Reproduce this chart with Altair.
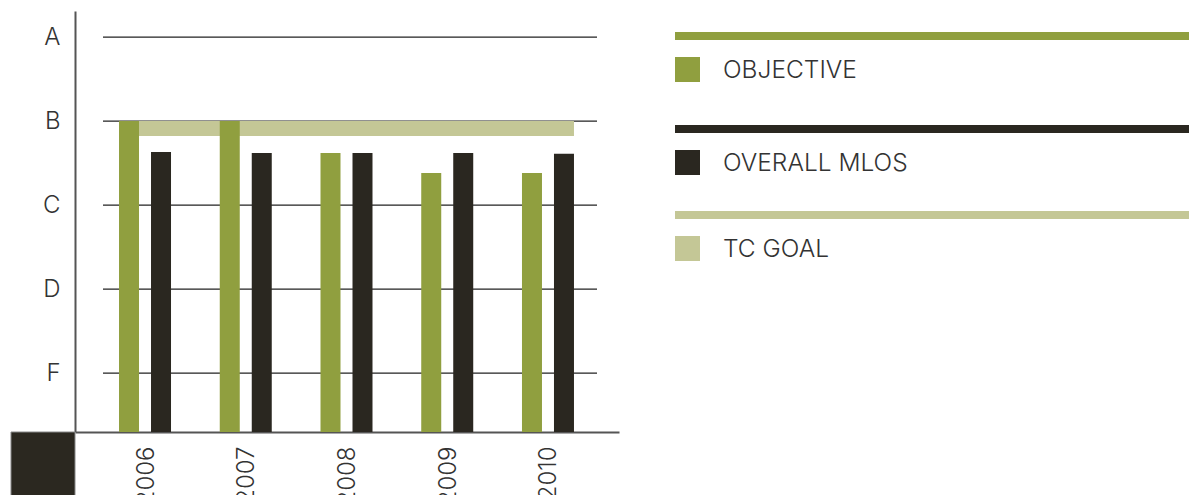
import altair as alt
import pandas as pd

# ---- data ----
years = [2006, 2007, 2008, 2009, 2010]
objective = [3.0, 3.0, 2.62, 2.38, 2.38]
overall_mlos = [2.63, 2.62, 2.62, 2.62, 2.61]
tc_goal_value = 3.0
tc_goal_years = [2006, 2010]
grades = ["A", "B", "C", "D", "F"]
grade_points = [4, 3, 2, 1, 0]
series_names = ["OBJECTIVE", "OVERALL MLOS", "TC GOAL"]
series_colors = ["#909f3f", "#2a2720", "#c4c796"]

# ---- layout / style ----
W, H = 544, 421
Y_DOMAIN = [-0.702, 4.31]
X_DOMAIN = [2005.305, 2010.705]
FONT = "Inter"
FONT_W = 300
TEXT_COLOR = "#333333"
AXIS_COLOR = "#555555"

rows = []
for y, o, m in zip(years, objective, overall_mlos):
    rows.append({"year": y, "series": series_names[0], "value": o})
    rows.append({"year": y, "series": series_names[1], "value": m})
df = pd.DataFrame(rows)

xscale = alt.Scale(domain=X_DOMAIN, nice=False, zero=False, padding=0)
yscale = alt.Scale(domain=Y_DOMAIN, nice=False, zero=False, padding=0)

label_map = "{" + ",".join(f"'{p}':'{g}'" for g, p in zip(grades, grade_points)) + "}"

x_axis = alt.Axis(
    values=years, format="d", labelAngle=270, labelFontSize=24, labelFont=FONT,
    labelFontWeight=FONT_W, labelColor=TEXT_COLOR, labelPadding=14, labelOffset=1,
    ticks=False, grid=False, domainColor=AXIS_COLOR, domainWidth=2, title=None,
)
y_axis = alt.Axis(
    values=grade_points, labelExpr=f"{label_map}[datum.value]", labelFontSize=24,
    labelFont=FONT, labelFontWeight=FONT_W, labelColor=TEXT_COLOR, labelPadding=15,
    ticks=False, grid=False, domainColor=AXIS_COLOR, domainWidth=2, title=None,
)

color = alt.Color("series:N", scale=alt.Scale(domain=series_names, range=series_colors), legend=None)

# gridlines
grid_df = pd.DataFrame({"g": grade_points})
grid = alt.Chart(grid_df).mark_rule(color="#222222", strokeWidth=1.3).encode(
    y=alt.Y("g:Q", scale=yscale, axis=y_axis),
    x=alt.value(28), x2=alt.value(522),
)

# TC goal band
goal_df = pd.DataFrame({"start": [tc_goal_years[0]], "end": [tc_goal_years[1]], "goal": [tc_goal_value]})
goal = alt.Chart(goal_df).mark_rule(
    color=series_colors[2], strokeWidth=15, yOffset=7.5, xOffset=-26, x2Offset=26, strokeCap="butt"
).encode(
    x=alt.X("start:Q", scale=xscale, axis=x_axis),
    x2="end:Q",
    y=alt.Y("goal:Q", scale=yscale),
)

def bar_layer(name, off):
    return alt.Chart(df).transform_filter(alt.datum.series == name).mark_bar(
        width=20, xOffset=off
    ).encode(
        x=alt.X("year:Q", scale=xscale, axis=x_axis),
        y=alt.Y("value:Q", scale=yscale, axis=y_axis),
        y2=alt.datum(Y_DOMAIN[0]),
        color=color,
    )

bars_obj = bar_layer(series_names[0], -16)
bars_mlos = bar_layer(series_names[1], 16)

# decorative black square at the axis corner
one = pd.DataFrame({"k": [0]})
corner = alt.Chart(one).mark_rect(color="#2b2820", stroke="#888888", strokeWidth=1).encode(
    x=alt.value(-64), x2=alt.value(0), y=alt.value(H), y2=alt.value(H + 64)
)

# custom legend
legend_layers = []
line_tops = [21, 114, 200]
for name, col, lt in zip(series_names, series_colors, line_tops):
    legend_layers.append(
        alt.Chart(one).mark_rect(color=col).encode(
            x=alt.value(600), x2=alt.value(1114), y=alt.value(lt), y2=alt.value(lt + 8)
        )
    )
    sq_top = lt + 25
    legend_layers.append(
        alt.Chart(one).mark_rect(color=col).encode(
            x=alt.value(600), x2=alt.value(625), y=alt.value(sq_top), y2=alt.value(sq_top + 25)
        )
    )
    legend_layers.append(
        alt.Chart(one).mark_text(
            align="left", baseline="middle", font=FONT, fontSize=24.5, fontWeight=FONT_W, color=TEXT_COLOR
        ).encode(x=alt.value(648), y=alt.value(sq_top + 14), text=alt.value(name))
    )

chart = alt.layer(grid, goal, bars_obj, bars_mlos, corner, *legend_layers).properties(
    width=W, height=H,
    autosize=alt.AutoSizeParams(type="none"),
    padding={"left": 75, "top": 11, "right": 1189 - 75 - W, "bottom": 495 - 11 - H},
    background="white",
).configure_view(stroke=None)

chart.save("out.html", embed_options={"renderer": "svg", "actions": False})
